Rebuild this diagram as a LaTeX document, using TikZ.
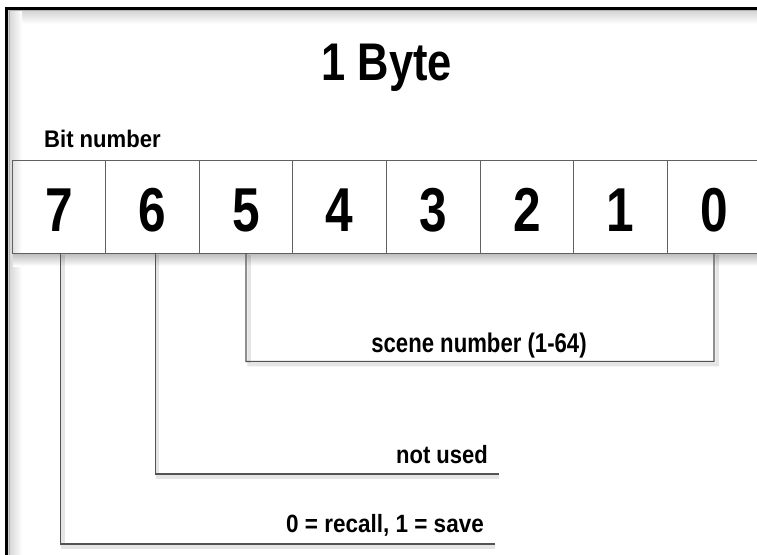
\documentclass[tikz,border=0pt]{standalone}
\usepackage{fontspec}
\setmainfont{Liberation Sans}
\usetikzlibrary{calc}
\newcommand{\txt}[3]{\scalebox{#2}[1]{\fontsize{#1}{#1}\selectfont\bfseries #3}}
\begin{document}
\begin{tikzpicture}[x=1pt,y=-1pt,
  cell/.style={draw=gray!75!black, line width=1pt, minimum width=93.6pt, minimum height=93pt, inner sep=0, outer sep=0},
  conn/.style={draw=gray!65!black, line width=1.1pt},
  connsh/.style={draw=black, opacity=0.10, line width=3.5pt},
  lab/.style={inner sep=0, text=black},
]
\useasboundingbox (0,0) rectangle (757,554);
\fill[white] (0,0) rectangle (757,554);
% frame and its inner shadow
\shade[top color=gray!35, bottom color=white] (8,10) rectangle (757,24);
\shade[left color=gray!35, right color=white] (8,10) rectangle (22,554);
\draw[gray!60, line width=1pt] (9,556) -- (9,10.5) -- (758,10.5);
\draw[black, line width=2.2pt] (6.5,556) -- (6.5,8.5) -- (758,8.5);
% table shadow
\shade[top color=gray!50, bottom color=white] (13,254) rectangle (757,266);
% title and caption
\node[lab, anchor=base] (title) at (387,80) {\txt{53}{0.82}{1 Byte}};
\node[lab, anchor=base west] (bitno) at (44,147) {\txt{24}{0.92}{Bit number}};
% cells
\foreach \i [count=\k from 0] in {7,6,...,0}{
  \node[cell] (c\i) at ({12+93.6*\k+46.8},206.5) {};
  \node[lab, anchor=base] (d\i) at ({12+93.6*\k+46.8},231) {\txt{62}{0.8}{\i}};
}
% connectors
\coordinate (e7) at (495,544);
\coordinate (e6) at (499,474);
\coordinate (b0) at (714,361.5);
\draw[connsh] ([shift={(4,2)}]c7.south) |- ([shift={(0,3)}]e7);
\draw[connsh] ([shift={(5,2)}]c6.south) |- ([shift={(0,3)}]e6);
\draw[connsh] ([shift={(3,2)}]c5.south) |- ([shift={(3,3)}]b0) -- ([shift={(3,2)}]c0.south);
\draw[conn] ([xshift=1.5pt]c7.south) |- (e7);
\draw[conn] ([xshift=3pt]c6.south) |- (e6);
\draw[conn] (c5.south) |- (b0) -- (c0.south);
% labels
\node[lab, anchor=base] (l5) at (479,352) {\txt{27}{0.82}{scene number (1-64)}};
\node[lab, anchor=base east] (l6) at (488,463) {\txt{25}{0.88}{not used}};
\node[lab, anchor=base east] (l7) at (484,532) {\txt{25}{0.9}{0 = recall, 1 = save}};
\end{tikzpicture}
\end{document}
